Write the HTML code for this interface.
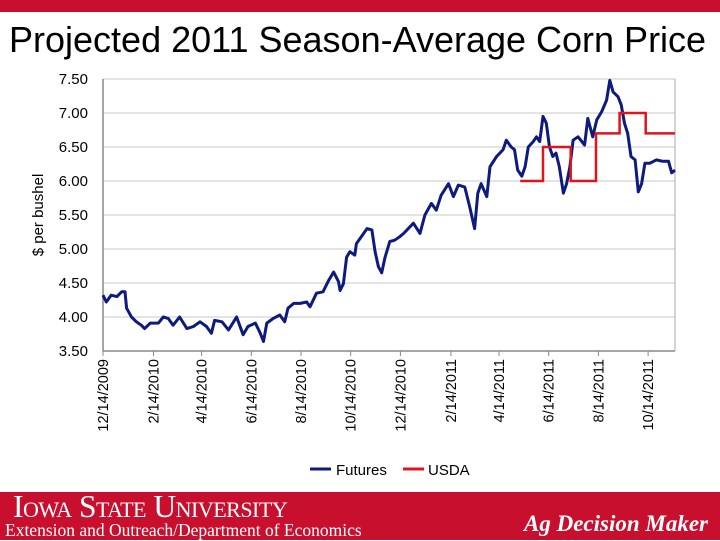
<!DOCTYPE html>
<html><head><meta charset="utf-8"><style>
body{margin:0;width:720px;height:540px;overflow:hidden;background:#fff;font-family:"Liberation Sans",sans-serif;position:relative}
#topbar{position:absolute;left:0;top:0;width:720px;height:12px;background:#c8102e}
#title{position:absolute;left:9px;top:19px;font-size:36px;color:#000;white-space:nowrap}
#footer{position:absolute;left:0;top:492px;width:720px;height:48px;background:#c8102e;color:#fff;font-family:"Liberation Serif",serif}
</style></head><body>
<div id="topbar"></div>
<div id="title">Projected 2011 Season-Average Corn Price</div>
<svg id="chart" width="720" height="540" style="position:absolute;left:0;top:0"></svg>
<div id="footer">
<div style="position:absolute;left:13px;top:-3px;font-size:31.5px;font-variant:small-caps;letter-spacing:-0.5px;white-space:nowrap">Iowa State University</div>
<div style="position:absolute;left:5px;top:28px;font-size:17.5px;white-space:nowrap">Extension and Outreach/Department of Economics</div>
<div style="position:absolute;right:12px;top:19px;font-size:23px;font-style:italic;font-weight:bold">Ag Decision Maker</div>
</div>
<script>
const futDays=[0,4,10,17,23,27,29,35,41,47,51,58,68,74,80,86,94,103,111,119,127,133,137,146,154,164,172,178,187,193,197,201,209,217,223,227,234,242,250,254,262,270,277,283,289,291,295,299,303,309,311,317,324,330,334,338,342,346,352,358,364,369,381,389,395,403,409,415,424,430,436,444,450,456,460,464,471,475,483,491,495,501,505,509,514,518,522,528,532,536,540,544,548,552,556,560,565,569,573,577,583,591,595,601,606,612,618,622,626,632,636,640,644,648,653,657,661,665,671,679,687,694,698,702];
const futPrices=[4.32,4.22,4.32,4.30,4.37,4.37,4.13,4.00,3.93,3.88,3.83,3.91,3.91,4.00,3.98,3.88,4.00,3.83,3.86,3.93,3.86,3.76,3.95,3.93,3.81,4.00,3.74,3.86,3.91,3.76,3.64,3.91,3.98,4.03,3.93,4.13,4.20,4.20,4.22,4.15,4.35,4.37,4.54,4.66,4.52,4.39,4.49,4.88,4.96,4.91,5.08,5.18,5.30,5.28,4.96,4.74,4.65,4.87,5.11,5.13,5.18,5.23,5.38,5.23,5.50,5.67,5.57,5.79,5.96,5.77,5.94,5.91,5.62,5.30,5.82,5.96,5.77,6.21,6.36,6.46,6.60,6.50,6.46,6.16,6.07,6.21,6.50,6.58,6.65,6.58,6.95,6.85,6.50,6.36,6.41,6.21,5.82,5.96,6.21,6.60,6.65,6.53,6.92,6.65,6.90,7.02,7.19,7.48,7.31,7.24,7.12,6.85,6.70,6.36,6.31,5.84,5.96,6.26,6.26,6.31,6.29,6.29,6.12,6.16];
const usdaDays=[512,540,574,605,634,666,702];
const usdaPrices=[6.00,6.50,6.00,6.70,7.00,6.70];
const yTicks=[3.5,4.0,4.5,5.0,5.5,6.0,6.5,7.0,7.5];
const xTickLabels=["12/14/2009","2/14/2010","4/14/2010","6/14/2010","8/14/2010","10/14/2010","12/14/2010","2/14/2011","4/14/2011","6/14/2011","8/14/2011","10/14/2011"];
const xTickDays=[0,62,121,182,243,304,365,427,486,547,608,669];

const X0=103,X1=675,Y0=351,Y1=79,DMAX=702,VMIN=3.5,VMAX=7.5;
const xs=d=>X0+d/DMAX*(X1-X0);
const ys=v=>Y0-(v-VMIN)/(VMAX-VMIN)*(Y0-Y1);
const svg=document.getElementById('chart');
const NS='http://www.w3.org/2000/svg';
function mk(t,a){const e=document.createElementNS(NS,t);for(const k in a)e.setAttribute(k,a[k]);svg.appendChild(e);return e;}

yTicks.forEach(v=>{
  const g=mk('line',{x1:X0,x2:X1,y1:ys(v),y2:ys(v),stroke:'#c8c8c8','stroke-width':1});
  
  
  const t=mk('text',{x:88,y:ys(v)+5,'text-anchor':'end','font-size':15,fill:'#000'});
  t.textContent=v.toFixed(2);
  
  
});
const ax=mk('line',{x1:X0,x2:X0,y1:Y1,y2:Y0,stroke:'#888','stroke-width':1.5});


const rb=mk('line',{x1:X1,x2:X1,y1:Y1,y2:Y0,stroke:'#aaa','stroke-width':1});


const bx=mk('line',{x1:X0,x2:X1,y1:Y0,y2:Y0,stroke:'#888','stroke-width':1.5});


xTickDays.forEach((d,i)=>{
  const x=xs(d);
  const tk=mk('line',{x1:x,x2:x,y1:Y0,y2:Y0+5,stroke:'#888'});
  
  
  const t=mk('text',{x:0,y:0,'text-anchor':'end','font-size':14.5,fill:'#000',transform:`translate(${x+5},${Y0+8}) rotate(-90)`});
  t.textContent=xTickLabels[i];
  
  
});
const yt=mk('text',{x:0,y:0,'text-anchor':'middle','font-size':15,fill:'#000',transform:'translate(43,215) rotate(-90)'});
yt.textContent='$ per bushel';



let p='';
futDays.forEach((d,i)=>{p+=(i?'L':'M')+xs(d).toFixed(1)+' '+ys(futPrices[i]).toFixed(1);});
const fl=mk('path',{d:p,fill:'none',stroke:'#0d1a7e','stroke-width':3,'stroke-linejoin':'round'});



let q='';
usdaPrices.forEach((v,i)=>{
  q+=(i?'L':'M')+xs(usdaDays[i]).toFixed(1)+' '+ys(v).toFixed(1)+'L'+xs(usdaDays[i+1]).toFixed(1)+' '+ys(v).toFixed(1);
});
const ul=mk('path',{d:q,fill:'none',stroke:'#e0141c','stroke-width':2.5});



const l1=mk('line',{x1:310,x2:331,y1:469,y2:469,stroke:'#0d1a7e','stroke-width':3});


const t1=mk('text',{x:336,y:475,'font-size':15});t1.textContent='Futures';


const l2=mk('line',{x1:403,x2:424,y1:469,y2:469,stroke:'#e0141c','stroke-width':3});


const t2=mk('text',{x:428,y:475,'font-size':15});t2.textContent='USDA';


</script>
</body></html>
